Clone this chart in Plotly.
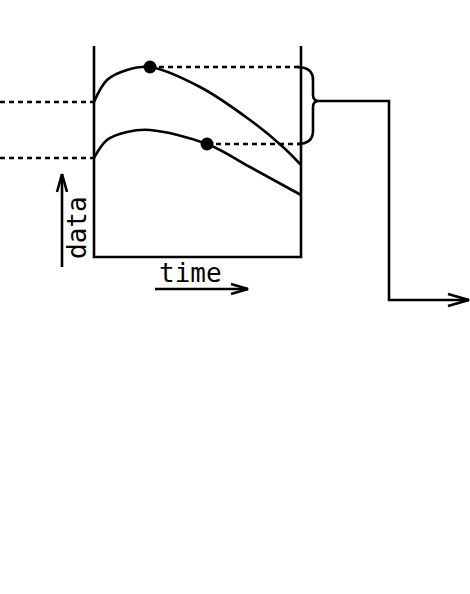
import plotly.graph_objects as go

# --- data (pixel-space diagram coordinates) ---
upper_x = [94, 107, 127, 150, 200, 250, 283, 301]
upper_y = [102, 80, 70, 67, 87, 120, 147, 165]
lower_x = [94, 107, 127, 150, 207, 250, 301]
lower_y = [158, 140, 132, 130, 144, 167, 195]
dot_x = [150, 207]
dot_y = [67, 144]

W, H = 470, 594
BLK = "black"
fig = go.Figure()

def line(xs, ys, dash=None, width=2.6, shape="linear"):
    fig.add_trace(go.Scatter(x=xs, y=ys, mode="lines",
                             line=dict(color=BLK, width=width, dash=dash, shape=shape),
                             hoverinfo="skip", showlegend=False))

# axes box (no top)
line([94, 94, 301, 301], [46, 257, 257, 46])

# curves
line(upper_x, upper_y, shape="spline")
line(lower_x, lower_y, shape="spline")

# dotted guides
dash = "5px,4px"
line([0, 94], [upper_y[0], upper_y[0]], dash=dash)
line([0, 94], [lower_y[0], lower_y[0]], dash=dash)
line([dot_x[0], 303], [dot_y[0], dot_y[0]], dash=dash)
line([dot_x[1], 303], [dot_y[1], dot_y[1]], dash=dash)

# dots
fig.add_trace(go.Scatter(x=dot_x, y=dot_y, mode="markers",
                         marker=dict(color=BLK, size=13), hoverinfo="skip", showlegend=False))

# brace
fig.add_shape(type="path",
              path="M 297 67 Q 313 67 313 80 L 313 95 Q 313 101 319 101 Q 313 101 313 107 L 313 131 Q 313 144 297 144",
              line=dict(color=BLK, width=2.6))

# connector + arrow
line([319, 389, 389, 469], [101, 101, 300, 300])
line([448, 469, 448], [294, 300, 306])

# data arrow
line([62, 62], [267, 174])
line([57, 62, 67], [192, 174, 192])

# time arrow
line([155, 248], [289, 289])
line([231, 248, 231], [284, 289, 294])

fig.add_annotation(x=190, y=273, text="time", showarrow=False,
                   font=dict(family="DejaVu Sans Mono", size=26, color=BLK),
                   xanchor="center", yanchor="middle")
fig.add_annotation(x=77, y=228, text="data", showarrow=False, textangle=-90,
                   font=dict(family="DejaVu Sans Mono", size=26, color=BLK),
                   xanchor="center", yanchor="middle")

fig.update_layout(width=W, height=H, margin=dict(l=0, r=0, t=0, b=0),
                  plot_bgcolor="white", paper_bgcolor="white", hovermode=False,
                  xaxis=dict(range=[0, W], visible=False, fixedrange=True),
                  yaxis=dict(range=[H, 0], visible=False, fixedrange=True))

fig.write_html("out.html", config={"displayModeBar": False, "staticPlot": True},
               post_script="document.body.style.margin='0';document.body.style.overflow='hidden';")
